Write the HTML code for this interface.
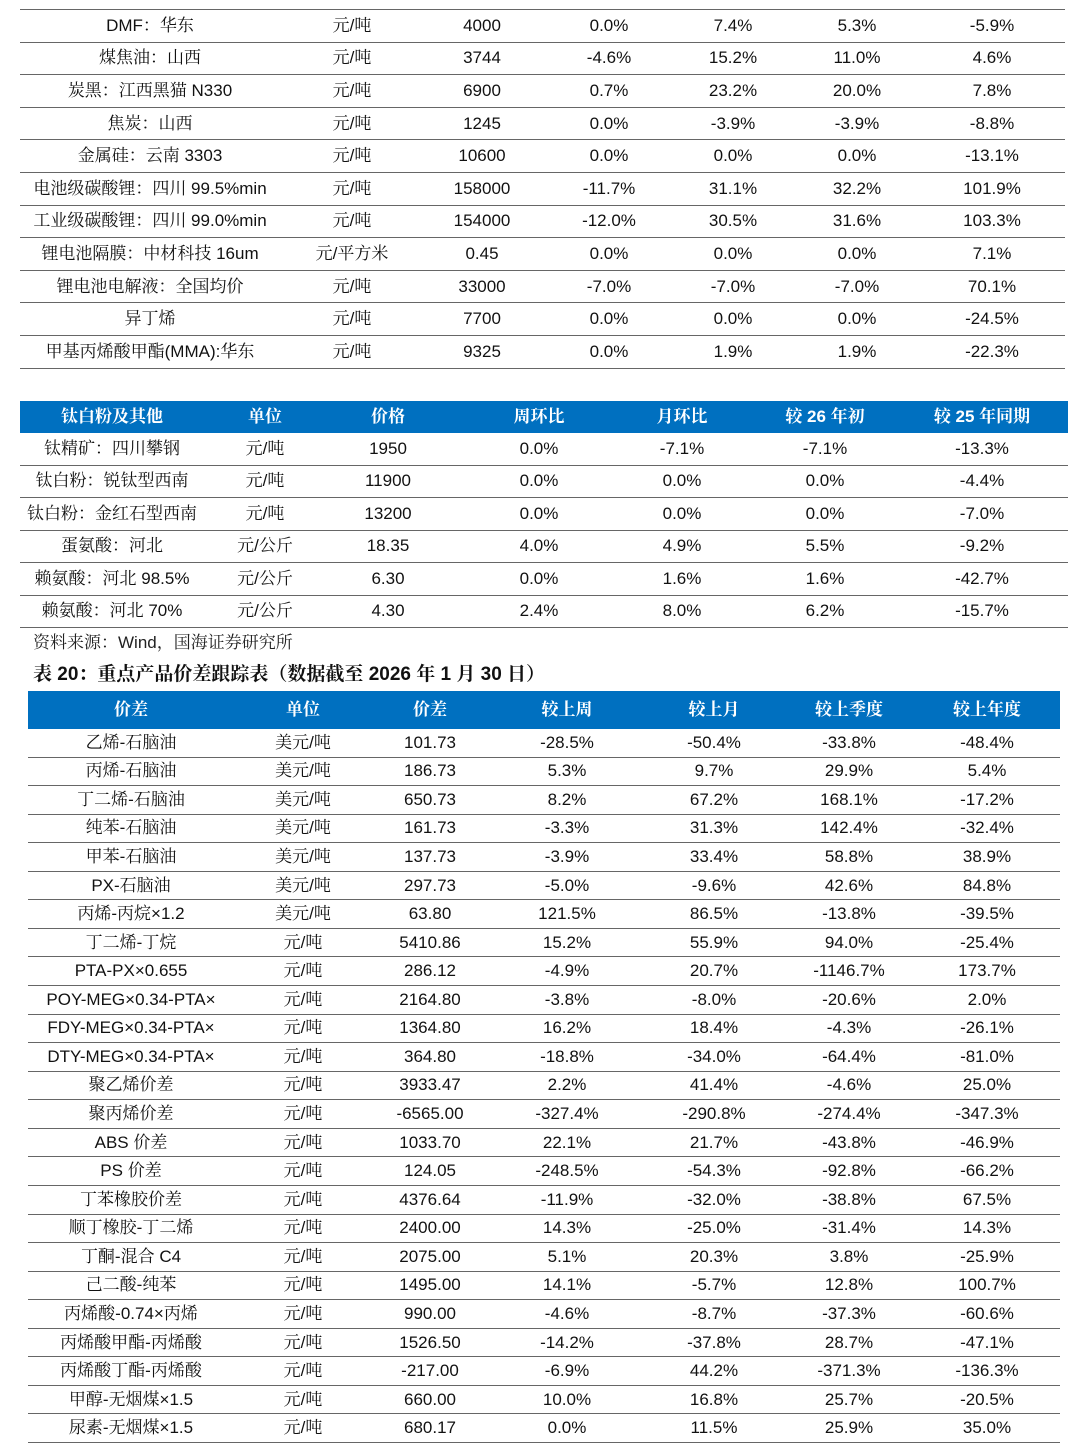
<!DOCTYPE html>
<html><head><meta charset="utf-8">
<style>
body{margin:0;width:1080px;height:1456px;background:#fff;position:relative;overflow:hidden;font-family:"Liberation Sans","Noto Serif CJK SC",serif;color:#111;}
.tbl{position:absolute;}
.row{position:absolute;left:0;right:0;font-size:17px;border-bottom:1.5px solid #666;box-sizing:border-box;}
.cell{position:absolute;top:50%;transform:translate(-50%,-50%);white-space:nowrap;line-height:20px;height:20px;}
.hdr{background:#0070C0;color:#fff;font-weight:bold;border-bottom:none;}
.note{position:absolute;font-size:17px;white-space:nowrap;line-height:22px;}
</style></head><body>
<div id="t1" class="tbl" style="left:20px;width:1045px;top:9px;border-top:1.5px solid #666;"></div>
<div id="t2" class="tbl" style="left:20px;width:1048px;top:401px;"></div>
<div class="note" style="left:33px;top:632px;color:#222;">资料来源：Wind，国海证券研究所</div>
<div class="note" style="left:33px;top:664px;font-weight:bold;font-size:19px;">表 20：重点产品价差跟踪表（数据截至 2026 年 1 月 30 日）</div>
<div id="t3" class="tbl" style="left:28px;width:1032px;top:691px;"></div>
<script>
const t1Cols=[130,332,462,589,713,837,972];
const t1Rows=[
["DMF：华东","元/吨","4000","0.0%","7.4%","5.3%","-5.9%"],
["煤焦油：山西","元/吨","3744","-4.6%","15.2%","11.0%","4.6%"],
["炭黑：江西黑猫 N330","元/吨","6900","0.7%","23.2%","20.0%","7.8%"],
["焦炭：山西","元/吨","1245","0.0%","-3.9%","-3.9%","-8.8%"],
["金属硅：云南 3303","元/吨","10600","0.0%","0.0%","0.0%","-13.1%"],
["电池级碳酸锂：四川 99.5%min","元/吨","158000","-11.7%","31.1%","32.2%","101.9%"],
["工业级碳酸锂：四川 99.0%min","元/吨","154000","-12.0%","30.5%","31.6%","103.3%"],
["锂电池隔膜：中材科技 16um","元/平方米","0.45","0.0%","0.0%","0.0%","7.1%"],
["锂电池电解液：全国均价","元/吨","33000","-7.0%","-7.0%","-7.0%","70.1%"],
["异丁烯","元/吨","7700","0.0%","0.0%","0.0%","-24.5%"],
["甲基丙烯酸甲酯(MMA):华东","元/吨","9325","0.0%","1.9%","1.9%","-22.3%"]];
const t2Cols=[92,245,368,519,662,805,962];
const t2Head=["钛白粉及其他","单位","价格","周环比","月环比","较 26 年初","较 25 年同期"];
const t2Rows=[
["钛精矿：四川攀钢","元/吨","1950","0.0%","-7.1%","-7.1%","-13.3%"],
["钛白粉：锐钛型西南","元/吨","11900","0.0%","0.0%","0.0%","-4.4%"],
["钛白粉：金红石型西南","元/吨","13200","0.0%","0.0%","0.0%","-7.0%"],
["蛋氨酸：河北","元/公斤","18.35","4.0%","4.9%","5.5%","-9.2%"],
["赖氨酸：河北 98.5%","元/公斤","6.30","0.0%","1.6%","1.6%","-42.7%"],
["赖氨酸：河北 70%","元/公斤","4.30","2.4%","8.0%","6.2%","-15.7%"]];
const t3Cols=[103,275,402,539,686,821,959];
const t3Head=["价差","单位","价差","较上周","较上月","较上季度","较上年度"];
const t3Rows=[
["乙烯-石脑油","美元/吨","101.73","-28.5%","-50.4%","-33.8%","-48.4%"],
["丙烯-石脑油","美元/吨","186.73","5.3%","9.7%","29.9%","5.4%"],
["丁二烯-石脑油","美元/吨","650.73","8.2%","67.2%","168.1%","-17.2%"],
["纯苯-石脑油","美元/吨","161.73","-3.3%","31.3%","142.4%","-32.4%"],
["甲苯-石脑油","美元/吨","137.73","-3.9%","33.4%","58.8%","38.9%"],
["PX-石脑油","美元/吨","297.73","-5.0%","-9.6%","42.6%","84.8%"],
["丙烯-丙烷×1.2","美元/吨","63.80","121.5%","86.5%","-13.8%","-39.5%"],
["丁二烯-丁烷","元/吨","5410.86","15.2%","55.9%","94.0%","-25.4%"],
["PTA-PX×0.655","元/吨","286.12","-4.9%","20.7%","-1146.7%","173.7%"],
["POY-MEG×0.34-PTA×","元/吨","2164.80","-3.8%","-8.0%","-20.6%","2.0%"],
["FDY-MEG×0.34-PTA×","元/吨","1364.80","16.2%","18.4%","-4.3%","-26.1%"],
["DTY-MEG×0.34-PTA×","元/吨","364.80","-18.8%","-34.0%","-64.4%","-81.0%"],
["聚乙烯价差","元/吨","3933.47","2.2%","41.4%","-4.6%","25.0%"],
["聚丙烯价差","元/吨","-6565.00","-327.4%","-290.8%","-274.4%","-347.3%"],
["ABS 价差","元/吨","1033.70","22.1%","21.7%","-43.8%","-46.9%"],
["PS 价差","元/吨","124.05","-248.5%","-54.3%","-92.8%","-66.2%"],
["丁苯橡胶价差","元/吨","4376.64","-11.9%","-32.0%","-38.8%","67.5%"],
["顺丁橡胶-丁二烯","元/吨","2400.00","14.3%","-25.0%","-31.4%","14.3%"],
["丁酮-混合 C4","元/吨","2075.00","5.1%","20.3%","3.8%","-25.9%"],
["己二酸-纯苯","元/吨","1495.00","14.1%","-5.7%","12.8%","100.7%"],
["丙烯酸-0.74×丙烯","元/吨","990.00","-4.6%","-8.7%","-37.3%","-60.6%"],
["丙烯酸甲酯-丙烯酸","元/吨","1526.50","-14.2%","-37.8%","28.7%","-47.1%"],
["丙烯酸丁酯-丙烯酸","元/吨","-217.00","-6.9%","44.2%","-371.3%","-136.3%"],
["甲醇-无烟煤×1.5","元/吨","660.00","10.0%","16.8%","25.7%","-20.5%"],
["尿素-无烟煤×1.5","元/吨","680.17","0.0%","11.5%","25.9%","35.0%"]];
function build(id,cols,head,headH,rows,rowH){
  const t=document.getElementById(id);
  let y=0;
  const all=head?[head].concat(rows):rows;
  all.forEach((r,i)=>{
    const isH=head&&i===0;
    const h=isH?headH:rowH;
    const d=document.createElement('div');
    d.className='row'+(isH?' hdr':'');
    
    
    d.style.top=y+'px';d.style.height=h+'px';
    r.forEach((v,j)=>{
      const c=document.createElement('span');
      c.className='cell';c.textContent=v;c.style.left=cols[j]+'px';
      
      
      d.appendChild(c);
    });
    t.appendChild(d);y+=h;
  });
  t.style.height=y+'px';
}
build('t1',t1Cols,null,0,t1Rows,32.6);
build('t2',t2Cols,t2Head,32,t2Rows,32.5);
build('t3',t3Cols,t3Head,38,t3Rows,28.56);
</script>
</body></html>
